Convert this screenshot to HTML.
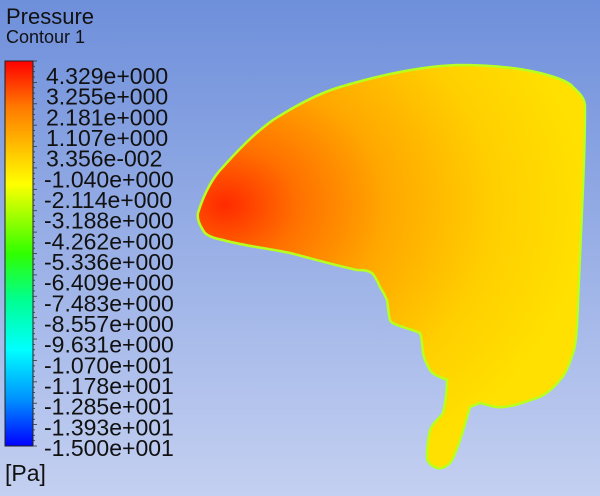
<!DOCTYPE html>
<html><head><meta charset="utf-8"><style>
body{margin:0;width:600px;height:496px;overflow:hidden;font-family:"Liberation Sans",sans-serif;}
#bg{position:absolute;left:0;top:0;width:600px;height:496px;background:linear-gradient(#6e8fdb,#c4d0f1);}
.t{position:absolute;color:#111;white-space:nowrap;}
</style></head><body>
<div id="bg"></div>
<div class="t" style="left:6px;top:4px;font-size:22px;">Pressure</div>
<div class="t" style="left:6px;top:27px;font-size:18px;">Contour 1</div>
<div class="t" style="left:5px;top:460px;font-size:23px;">[Pa]</div>
<svg id="svg" width="600" height="496" style="position:absolute;left:0;top:0">
<defs>
<linearGradient id="cb" x1="0" y1="0" x2="0" y2="1">
<stop offset="0" stop-color="#ff0000"/><stop offset="0.12" stop-color="#ff7a00"/><stop offset="0.25" stop-color="#ffd000"/><stop offset="0.32" stop-color="#ffff00"/><stop offset="0.5" stop-color="#30ff00"/><stop offset="0.62" stop-color="#00ff90"/><stop offset="0.75" stop-color="#00ffff"/><stop offset="0.88" stop-color="#0090ff"/><stop offset="1" stop-color="#0000ff"/>
</linearGradient>
<radialGradient id="fill" cx="225" cy="205" r="360" gradientUnits="userSpaceOnUse" gradientTransform="translate(225 205) scale(1 0.8) translate(-225 -205)">
<stop offset="0" stop-color="#ff2a00"/><stop offset="0.2" stop-color="#ff7000"/><stop offset="0.45" stop-color="#ffa800"/><stop offset="0.75" stop-color="#ffcf00"/><stop offset="1" stop-color="#ffe000"/>
</radialGradient>
</defs>
<rect x="5" y="61" width="28" height="385" fill="url(#cb)" stroke="#222" stroke-width="1"/>
<g id="ticks"></g>
<g id="labels"></g>
<path id="shape" fill="url(#fill)" stroke="#b8ff20" stroke-width="2.5"
 d="M198,213 C205,190 215,175 223,167 C240,148 255,133 273,120 C300,103 320,93 340,87 C390,72 430,66 457,65 C490,65 520,68 540,73 C560,78 570,83 573,87 C582,95 585,100 585,107 C585,140 584,160 583,187 C581,240 579,280 578,303 C577,330 576,345 573,353 C568,368 565,375 560,380 C552,390 545,395 537,398 C525,402 515,406 503,407 C495,408 488,405 480,403 L470,407 C466,420 463,432 460,440 C456,452 453,460 450,463 C445,468 440,469 437,468 C431,466 427,462 427,457 C427,448 428,438 430,430 C433,422 440,418 443,413 C446,400 447,390 447,380 C440,377 433,375 430,370 C426,363 424,358 423,353 C422,345 422,338 420,333 C413,330 408,329 403,327 C396,325 391,323 390,320 C388,312 388,305 387,300 C384,293 382,290 380,287 C377,280 375,276 372,273 C367,270 362,270 357,270 C330,264 310,258 290,253 C265,248 240,245 223,240 C212,238 205,235 203,230 C199,224 197,218 198,213 Z"/>
</svg>
<script>
const labels=["4.329e+000","3.255e+000","2.181e+000","1.107e+000","3.356e-002","-1.040e+000","-2.114e+000","-3.188e+000","-4.262e+000","-5.336e+000","-6.409e+000","-7.483e+000","-8.557e+000","-9.631e+000","-1.070e+001","-1.178e+001","-1.285e+001","-1.393e+001","-1.500e+001"];
const yTop=76, yBot=448;
const ns="http://www.w3.org/2000/svg";
const lg=document.getElementById('labels'), tg=document.getElementById('ticks');
labels.forEach((s,i)=>{
  const y=yTop+(yBot-yTop)*i/(labels.length-1);
  const t=document.createElementNS(ns,'text');
  
  
  t.setAttribute('x', s[0]==='-'?44:46);
  t.setAttribute('y',y+8);
  t.setAttribute('font-size','23');
  t.setAttribute('fill','#111');
  t.setAttribute('font-family','Liberation Sans, sans-serif');
  t.textContent=s;
  lg.appendChild(t);
});
for(let k=0;k<=72;k++){
  const y=61+385*k/72;
  const l=document.createElementNS(ns,'line');
  
  
  l.setAttribute('x1',33);l.setAttribute('x2',k%4==0?37:35);
  l.setAttribute('y1',y);l.setAttribute('y2',y);
  l.setAttribute('stroke','#333');l.setAttribute('stroke-width','0.8');
  tg.appendChild(l);
}
</script>
</body></html>
